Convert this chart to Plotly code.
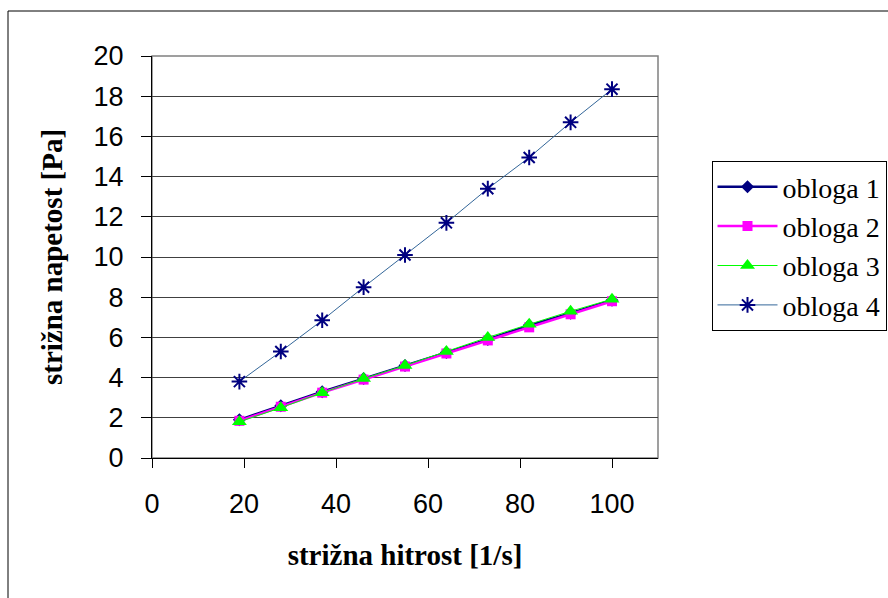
import plotly.graph_objects as go

x_vals = [19, 28, 37, 46, 55, 64, 73, 82, 91, 100]
obloga1 = [1.90, 2.60, 3.30, 3.95, 4.60, 5.25, 5.90, 6.60, 7.20, 7.85]
obloga2 = [1.85, 2.55, 3.25, 3.90, 4.55, 5.20, 5.85, 6.50, 7.15, 7.80]
obloga3 = [1.80, 2.50, 3.25, 3.95, 4.60, 5.30, 6.00, 6.65, 7.30, 7.90]
obloga4 = [3.80, 5.30, 6.85, 8.50, 10.10, 11.70, 13.40, 14.95, 16.70, 18.35]
names = ["obloga 1", "obloga 2", "obloga 3", "obloga 4"]
x_title = "strižna hitrost [1/s]"
y_title = "strižna napetost [Pa]"

TICK_FONT = dict(family="Arial, Liberation Sans, sans-serif", size=27, color="black")
TITLE_FONT = dict(family="Times New Roman, Liberation Serif, serif", size=29, color="black")

fig = go.Figure()
fig.add_trace(go.Scatter(x=x_vals, y=obloga4, name=names[3], mode="lines+markers",
                         line=dict(color="#336699", width=1),
                         marker=dict(symbol="asterisk-open", size=13, color="#000080",
                                     line=dict(color="#000080", width=2))))
fig.add_trace(go.Scatter(x=x_vals, y=obloga1, name=names[0], mode="lines+markers",
                         line=dict(color="#000080", width=2.5),
                         marker=dict(symbol="diamond", size=10, color="#000080")))
fig.add_trace(go.Scatter(x=x_vals, y=obloga2, name=names[1], mode="lines+markers",
                         line=dict(color="#FF00FF", width=2.5),
                         marker=dict(symbol="square", size=10, color="#FF00FF")))
fig.add_trace(go.Scatter(x=x_vals, y=obloga3, name=names[2], mode="lines+markers",
                         line=dict(color="#00FF00", width=1),
                         marker=dict(symbol="triangle-up", size=13, color="#00FF00")))

L, R, T, B = 152, 230, 56, 140
W, H = 888, 598
pw, ph = W - L - R, H - T - B

fig.update_layout(
    width=W, height=H,
    margin=dict(l=L, r=R, t=T, b=B, autoexpand=False),
    paper_bgcolor="white", plot_bgcolor="white",
    showlegend=True,
    legend=dict(
        x=(711.5 - L) / pw, y=(H - B - 161) / ph, xanchor="left", yanchor="top",
        bgcolor="white", bordercolor="black", borderwidth=1,
        font=dict(family="Times New Roman, Liberation Serif, serif", size=28, color="black"),
        traceorder="normal", itemwidth=60,
    ),
    xaxis=dict(
        range=[0, 110], tickvals=[0, 20, 40, 60, 80, 100], showgrid=False, zeroline=False,
        showline=True, linecolor="black", linewidth=1,
        ticks="outside", ticklen=9, tickcolor="black", tickfont=TICK_FONT,
        ticklabelstandoff=13,
        title=dict(text="<b>" + x_title + "</b>", font=TITLE_FONT, standoff=26),
    ),
    yaxis=dict(
        range=[0, 20], tickvals=list(range(0, 21, 2)), showgrid=True, gridcolor="#404040",
        gridwidth=1, zeroline=False,
        showline=True, linecolor="black", linewidth=1,
        ticks="outside", ticklen=10, tickcolor="black", tickfont=TICK_FONT,
        ticklabelstandoff=12,
        title=dict(text="<b>" + y_title + "</b>", font=TITLE_FONT, standoff=22),
    ),
    shapes=[
        dict(type="rect", xref="paper", yref="paper", x0=0, x1=1, y0=0, y1=1,
             line=dict(color="#808080", width=1.5), fillcolor="rgba(0,0,0,0)", layer="below"),
        dict(type="rect", xref="paper", yref="paper",
             x0=(8 - L) / pw, x1=(W + 20 - L) / pw,
             y0=(H - B - (H + 20)) / ph, y1=(H - B - 11) / ph,
             line=dict(color="black", width=1), fillcolor="rgba(0,0,0,0)", layer="below"),
    ],
)

fig.data[0].legendrank = 4
fig.data[1].legendrank = 1
fig.data[2].legendrank = 2
fig.data[3].legendrank = 3

fig.write_html("out.html")
